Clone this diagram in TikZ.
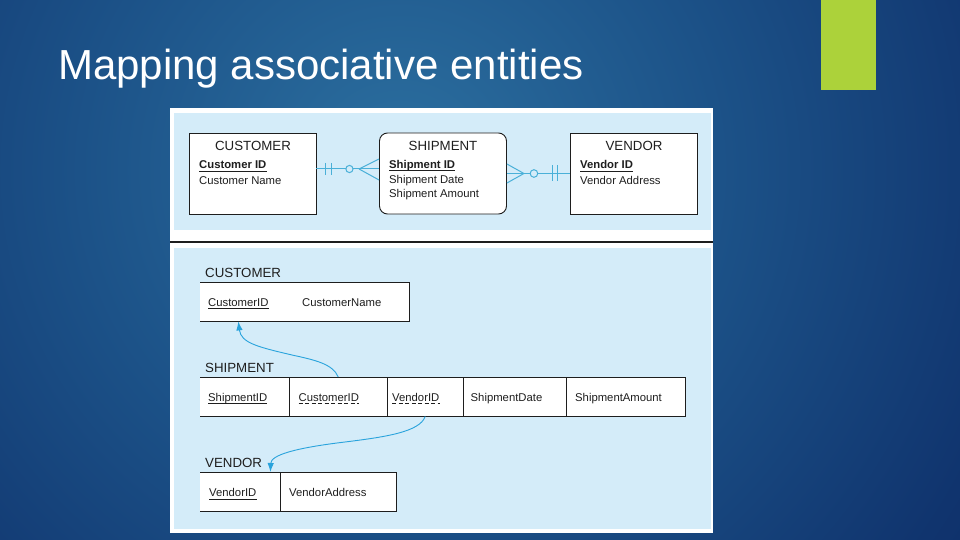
\documentclass[tikz,border=0pt]{standalone}
\usepackage{fontspec}
\setmainfont{Liberation Sans}
\usetikzlibrary{calc,arrows.meta}
\definecolor{bgdark}{RGB}{10,36,94}
\definecolor{bgmid}{RGB}{16,52,110}
\definecolor{bgsoft}{RGB}{28,82,136}
\definecolor{bglight}{RGB}{44,112,160}
\definecolor{lime}{RGB}{172,210,58}
\definecolor{panel}{RGB}{212,236,249}
\definecolor{erline}{RGB}{74,176,216}
\definecolor{fkcol}{RGB}{41,163,220}
\definecolor{ink}{RGB}{30,30,30}
\pgfdeclareradialshading{bgshade}{\pgfpoint{0bp}{0bp}}{%
  color(0bp)=(bglight); color(10bp)=(bgsoft); color(20bp)=(bgmid); color(28bp)=(bgdark); color(50bp)=(bgdark)}
\tikzset{
  erbox/.style={draw=ink, fill=white, line width=0.9pt, minimum width=127pt, minimum height=81pt, inner sep=0pt},
  erhead/.style={font=\fontsize{13.3}{16}\selectfont, text=ink, inner sep=0pt, anchor=base},
  attr/.style={font=\fontsize{11.3}{13}\selectfont, text=ink, inner sep=0pt, anchor=base west},
  attrkey/.style={attr, font=\fontsize{11.3}{13}\selectfont\bfseries},
  relhead/.style={erhead, anchor=base west},
  cell/.style={fill=white, inner sep=0pt, minimum height=39pt, anchor=north west},
  tableline/.style={draw=ink, line width=0.9pt},
  erconn/.style={draw=erline, line width=1pt},
  fkarrow/.style={draw=fkcol, line width=0.9pt, -{Latex[length=9pt,width=6.5pt]}},
  pkline/.style={draw=ink, line width=0.8pt},
  fkline/.style={draw=ink, line width=0.8pt, dash pattern=on 4pt off 2.5pt}
}
\newcommand\keyline[1]{\path[pkline] ($(#1.base west)+(0,2.6)$) -- ($(#1.base east)+(0,2.6)$);}
\newcommand\fkeyline[1]{\path[fkline] ($(#1.base west)+(0,2.6)$) -- ($(#1.base east)+(0,2.6)$);}
\begin{document}
\begin{tikzpicture}[x=1pt,y=-1pt]
\useasboundingbox (0,0) rectangle (960,540);
% background
\fill[bgdark] (0,0) rectangle (960,540);
\begin{scope}
  \clip (0,0) rectangle (960,540);
  \shade[shading=bgshade] (400,170) circle (800);
\end{scope}
\fill[lime] (821,0) rectangle (876,90);
\node[anchor=base west, text=white, inner sep=0pt, font=\fontsize{42}{50}\selectfont] (title) at (58,80) {Mapping associative entities};
% figure frame
\fill[white] (170,108) rectangle (713,533);
\fill[panel] (174,113) rectangle (711,230);
\fill[panel] (174,248) rectangle (711,529);
\draw[ink, line width=1.1pt] (170,242) -- (713,242);
% ---- ER diagram ----
\node[erbox] (custER) at (252.5,173.5) {};
\node[erbox, rounded corners=8pt] (shipER) at (443,173.5) {};
\node[erbox] (vendER) at (633.5,173.5) {};
\node[erhead] (cH) at (253,151) {CUSTOMER};
\node[attrkey] (cK) at (199,169) {Customer ID};
\node[attr] (cN) at (199,184) {Customer Name};
\keyline{cK}
\node[erhead] (sH) at (443,151) {SHIPMENT};
\node[attrkey] (sK) at (389,168) {Shipment ID};
\node[attr] (sD) at (389,183.5) {Shipment Date};
\node[attr] (sA) at (389,197.5) {Shipment Amount};
\keyline{sK}
\node[erhead] (vH) at (634,151) {VENDOR};
\node[attrkey] (vK) at (580,169) {Vendor ID};
\node[attr] (vN) at (580,184) {Vendor Address};
\keyline{vK}
% relationship lines
\coordinate (L1) at ([yshift=4.5pt]custER.east);
\coordinate (L2) at (L1 -| shipER.west);
\coordinate (R1) at (shipER.east);
\coordinate (R2) at (vendER.west);
\path[erconn] (L1) -- (L2);
\path[erconn] (R1) -- (R2);
% left: one (mandatory) at customer, many (optional) at shipment
\path[erconn] ($(L1)+(9.5,-6)$) -- ($(L1)+(9.5,6)$);
\path[erconn] ($(L1)+(15,-6)$) -- ($(L1)+(15,6)$);
\path[erconn, fill=panel] ($(L1)+(33,0)$) circle (3.6);
\path[erconn] ($(L2)+(-20,0)$) -- ($(L2)+(0,-10)$);
\path[erconn] ($(L2)+(-20,0)$) -- ($(L2)+(0,11)$);
% right: many (optional) at shipment, one (mandatory) at vendor
\path[erconn] ($(R1)+(0,-9.5)$) -- ($(R1)+(17,0)$);
\path[erconn] ($(R1)+(0,9.5)$) -- ($(R1)+(17,0)$);
\path[erconn, fill=panel] ($(R1)+(27,0)$) circle (3.8);
\path[erconn] ($(R2)+(-17,-8)$) -- ($(R2)+(-17,8)$);
\path[erconn] ($(R2)+(-12,-8)$) -- ($(R2)+(-12,8)$);
% ---- Relations ----
\node[relhead] (rcH) at (205,277) {CUSTOMER};
\node[cell, minimum width=209pt, minimum height=38.5pt] (cT) at (200,282.5) {};
\path[tableline] (cT.north west) -- (cT.north east) -- (cT.south east) -- (cT.south west);
\node[attr] (cK2) at (208,306) {CustomerID};
\node[attr] (cN2) at (302,306) {CustomerName};
\keyline{cK2}

\node[relhead] (rsH) at (205,372) {SHIPMENT};
\node[cell, minimum width=89pt] (s1) at (200,377) {};
\node[cell, minimum width=98pt] (s2) at (289,377) {};
\node[cell, minimum width=76pt] (s3) at (387,377) {};
\node[cell, minimum width=103pt] (s4) at (463,377) {};
\node[cell, minimum width=119pt] (s5) at (566,377) {};
\path[tableline] (s1.north west) -- (s5.north east) -- (s5.south east) -- (s1.south west);
\path[tableline] (s2.north west) -- (s2.south west);
\path[tableline] (s3.north west) -- (s3.south west);
\path[tableline] (s4.north west) -- (s4.south west);
\path[tableline] (s5.north west) -- (s5.south west);
\node[attr] (t1) at (208,401) {ShipmentID};
\node[attr] (t2) at (298.5,401) {CustomerID};
\node[attr] (t3) at (392,401) {VendorID};
\node[attr] (t4) at (470.5,401) {ShipmentDate};
\node[attr] (t5) at (575,401) {ShipmentAmount};
\keyline{t1}
\fkeyline{t2}
\fkeyline{t3}

\node[relhead] (rvH) at (205,467) {VENDOR};
\node[cell, minimum width=80.5pt] (v1) at (200,472) {};
\node[cell, minimum width=116pt] (v2) at (280.5,472) {};
\path[tableline] (v1.north west) -- (v2.north east) -- (v2.south east) -- (v1.south west);
\path[tableline] (v2.north west) -- (v2.south west);
\node[attr] (vK2) at (209,496.5) {VendorID};
\node[attr] (vN2) at (289,496.5) {VendorAddress};
\keyline{vK2}
% foreign key arrows
\path[fkarrow] (s2.north) .. controls (333,364) and (315,360) .. (292,355)
   .. controls (258,347) and (241,343) .. (cK2 |- cT.south);
\path[fkarrow] (s3.south) .. controls (420,432) and (385,437) .. (345,442)
   .. controls (295,448) and (271,455) .. ($(v1.north east)+(-10.5,0)$);
\end{tikzpicture}
\end{document}
